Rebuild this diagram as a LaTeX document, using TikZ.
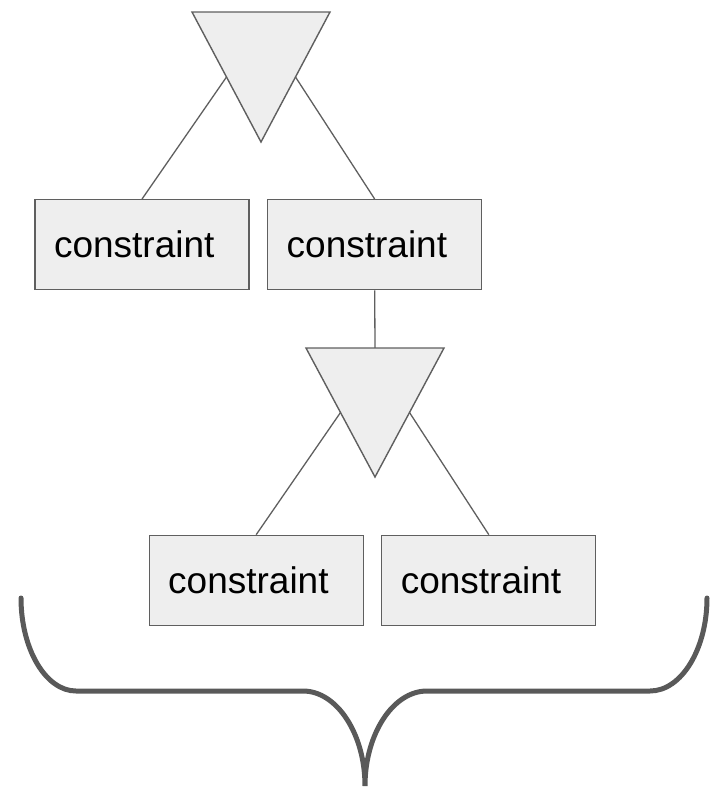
\documentclass[tikz,border=0pt]{standalone}
\usepackage{fontspec}
\setmainfont{Liberation Sans}
\usetikzlibrary{calc}
\definecolor{edgegray}{HTML}{5F5F5F}
\definecolor{bracegray}{HTML}{595959}
\definecolor{boxfill}{HTML}{EEEEEE}
\tikzset{
  cbox/.style={draw=edgegray, fill=boxfill, line width=1.3pt, rectangle,
    minimum width=214pt, minimum height=90pt, text width=176pt, align=left,
    inner xsep=19pt, inner ysep=0pt, font=\fontsize{37}{40}\selectfont},
  tri/.style={draw=edgegray, fill=boxfill, line width=1.4pt, line join=miter},
  conn/.style={draw=edgegray, line width=1.3pt},
  bracestyle/.style={draw=bracegray, line width=5pt, line cap=round}
}
\begin{document}
\begin{tikzpicture}[x=1pt,y=-1pt]
\useasboundingbox (0,0) rectangle (717,793);
% triangle corners
\coordinate (t1l) at (192,12);
\coordinate (t1r) at (330,12);
\coordinate (t1a) at (261,142);
\coordinate (t1ls) at ($(t1l)!0.5!(t1a)$);
\coordinate (t1rs) at ($(t1r)!0.5!(t1a)$);
\coordinate (t2l) at (306,348);
\coordinate (t2r) at (444,348);
\coordinate (t2a) at (375,477);
\coordinate (t2top) at ($(t2l)!0.5!(t2r)$);
\coordinate (t2ls) at ($(t2l)!0.5!(t2a)$);
\coordinate (t2rs) at ($(t2r)!0.5!(t2a)$);
% boxes
\node[cbox] (b1) at (142,244.7) {constraint};
\node[cbox] (b2) at (374.7,244.7) {constraint};
\node[cbox] (b3) at (256.2,580.3) {constraint};
\node[cbox] (b4) at (488.8,580.3) {constraint};
% connectors
\draw[conn] (b1.north) -- (t1ls);
\draw[conn] (b2.north) -- (t1rs);
\draw[conn] (b2.south) -- (t2top);
\draw[conn] (b3.north) -- (t2ls);
\draw[conn] (b4.north) -- (t2rs);
% triangles
\path[tri] (t1l) -- (t1r) -- (t1a) -- cycle;
\path[tri] (t2l) -- (t2r) -- (t2a) -- cycle;
% brace
\coordinate (brl) at (21,598);
\coordinate (brr) at (707,598);
\coordinate (brtip) at (365,786);
\draw[bracestyle] (brl) .. controls (21,649) and (45.7,691) .. (76,691)
  -- (303,691) .. controls (337,691) and (365,734) .. (brtip)
  .. controls (365,734) and (393,691) .. (427,691)
  -- (650,691) .. controls (681.4,691) and (707,649) .. (brr);
\end{tikzpicture}
\end{document}
